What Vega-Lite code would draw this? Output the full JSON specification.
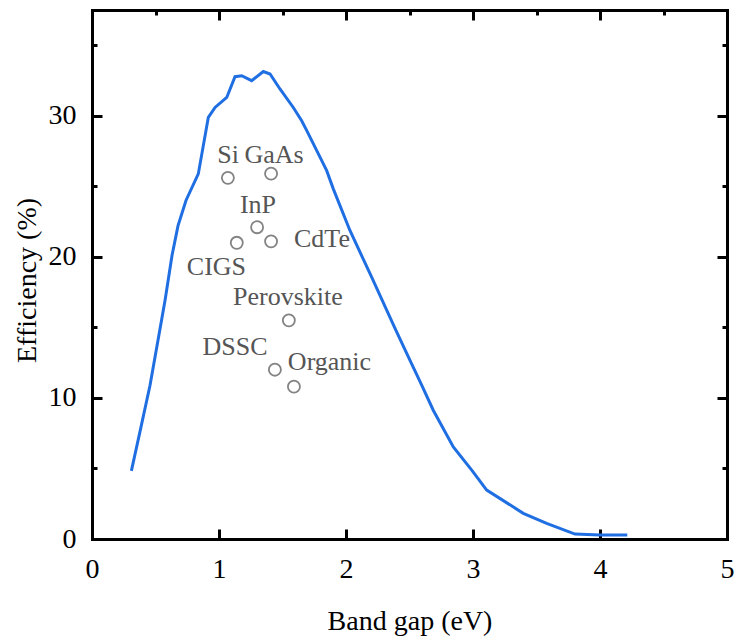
{
  "$schema": "https://vega.github.io/schema/vega-lite/v6.json",
  "width": 635,
  "height": 529,
  "autosize": {"type": "none"},
  "padding": {"left": 92, "top": 10, "right": 8, "bottom": 97},
  "config": {
    "view": {"stroke": null},
    "font": "Liberation Serif",
    "axis": {
      "grid": false,
      "domainColor": "black",
      "domainWidth": 3,
      "domainCap": "square",
      "tickColor": "black",
      "tickWidth": 3,
      "labelFont": "Liberation Serif",
      "labelFontSize": 28,
      "labelColor": "black",
      "labelFlush": false,
      "labelOverlap": false,
      "titleFont": "Liberation Serif",
      "titleFontSize": 28,
      "titleFontWeight": "normal",
      "titleColor": "black"
    }
  },
  "datasets": {
    "curve": [
      {"gap": 0.31, "eff": 4.83},
      {"gap": 0.38, "eff": 7.7},
      {"gap": 0.457, "eff": 10.9},
      {"gap": 0.52, "eff": 14.1},
      {"gap": 0.575, "eff": 16.9},
      {"gap": 0.63, "eff": 20.1},
      {"gap": 0.677, "eff": 22.2},
      {"gap": 0.74, "eff": 24.0},
      {"gap": 0.837, "eff": 25.88},
      {"gap": 0.916, "eff": 29.89},
      {"gap": 0.969, "eff": 30.59},
      {"gap": 1.061, "eff": 31.3},
      {"gap": 1.126, "eff": 32.77},
      {"gap": 1.179, "eff": 32.84},
      {"gap": 1.257, "eff": 32.49},
      {"gap": 1.349, "eff": 33.14},
      {"gap": 1.402, "eff": 32.96},
      {"gap": 1.48, "eff": 31.9},
      {"gap": 1.585, "eff": 30.59},
      {"gap": 1.651, "eff": 29.65},
      {"gap": 1.691, "eff": 28.95},
      {"gap": 1.809, "eff": 26.82},
      {"gap": 1.848, "eff": 26.11},
      {"gap": 1.9, "eff": 24.82},
      {"gap": 2.031, "eff": 21.87},
      {"gap": 2.202, "eff": 18.56},
      {"gap": 2.386, "eff": 14.93},
      {"gap": 2.504, "eff": 12.67},
      {"gap": 2.596, "eff": 10.9},
      {"gap": 2.687, "eff": 9.13},
      {"gap": 2.845, "eff": 6.53},
      {"gap": 2.99, "eff": 4.88},
      {"gap": 3.108, "eff": 3.47},
      {"gap": 3.396, "eff": 1.82},
      {"gap": 3.58, "eff": 1.11},
      {"gap": 3.803, "eff": 0.35},
      {"gap": 4.0, "eff": 0.28},
      {"gap": 4.215, "eff": 0.28}
    ],
    "cells": [
      {"name": "Si", "gap": 1.07, "eff": 25.6, "lx": 1.071, "ly": 26.68},
      {"name": "GaAs", "gap": 1.41, "eff": 25.9, "lx": 1.433, "ly": 26.68},
      {"name": "InP", "gap": 1.3, "eff": 22.1, "lx": 1.307, "ly": 23.14},
      {"name": "CIGS", "gap": 1.14, "eff": 21.0, "lx": 0.98, "ly": 18.68},
      {"name": "CdTe", "gap": 1.41, "eff": 21.1, "lx": 1.811, "ly": 20.67},
      {"name": "Perovskite", "gap": 1.55, "eff": 15.5, "lx": 1.543, "ly": 16.56},
      {"name": "DSSC", "gap": 1.44, "eff": 12.0, "lx": 1.126, "ly": 13.02},
      {"name": "Organic", "gap": 1.59, "eff": 10.8, "lx": 1.87, "ly": 11.96}
    ]
  },
  "layer": [
    {
      "data": {"name": "curve"},
      "mark": {"type": "line", "color": "#1f6fe3", "strokeWidth": 3},
      "encoding": {
        "x": {
          "field": "gap", "type": "quantitative",
          "scale": {"domain": [0, 5], "nice": false, "zero": false},
          "axis": {
            "orient": "bottom",
            "values": [0, 0.5, 1, 1.5, 2, 2.5, 3, 3.5, 4, 4.5, 5],
            "format": "d",
            "tickSize": {"condition": {"test": "datum.value % 1 === 0", "value": -10}, "value": -5},
            "labelExpr": "datum.value % 1 === 0 ? datum.label : ''",
            "labelPadding": 48,
            "labelBaseline": "alphabetic",
            "title": "Band gap (eV)",
            "titleY": 90,
            "titleBaseline": "alphabetic"
          }
        },
        "y": {
          "field": "eff", "type": "quantitative",
          "scale": {"domain": [0, 37.5], "nice": false, "zero": false},
          "axis": {
            "orient": "left",
            "values": [0, 5, 10, 15, 20, 25, 30, 35],
            "format": "d",
            "tickSize": {"condition": {"test": "datum.value % 10 === 0", "value": -10}, "value": -5},
            "labelExpr": "datum.value % 10 === 0 ? datum.label : ''",
            "labelPadding": 26,
            "labelBaseline": "middle",
            "title": "Efficiency (%)",
            "titleAngle": 270,
            "titleX": -57,
            "titleY": 270,
            "titleAlign": "center",
            "titleBaseline": "alphabetic"
          }
        }
      }
    },
    {
      "data": {"name": "cells"},
      "mark": {"type": "point", "shape": "circle", "filled": false, "size": 145, "stroke": "#505050", "strokeWidth": 1.8},
      "encoding": {
        "x": {
          "field": "gap", "type": "quantitative",
          "axis": {
            "orient": "top",
            "values": [0, 0.5, 1, 1.5, 2, 2.5, 3, 3.5, 4, 4.5, 5],
            "tickSize": {"condition": {"test": "datum.value % 1 === 0", "value": -10}, "value": -5},
            "labels": false,
            "title": null
          }
        },
        "y": {
          "field": "eff", "type": "quantitative",
          "axis": {
            "orient": "right",
            "values": [0, 5, 10, 15, 20, 25, 30, 35],
            "tickSize": {"condition": {"test": "datum.value % 10 === 0", "value": -10}, "value": -5},
            "labels": false,
            "title": null
          }
        }
      }
    },
    {
      "data": {"name": "cells"},
      "mark": {"type": "text", "font": "Liberation Serif", "fontSize": 26, "color": "#555555", "align": "center", "baseline": "alphabetic"},
      "encoding": {
        "x": {"field": "lx", "type": "quantitative", "axis": null},
        "y": {"field": "ly", "type": "quantitative", "axis": null},
        "text": {"field": "name"}
      }
    }
  ],
  "resolve": {"axis": {"x": "independent", "y": "independent"}}
}
